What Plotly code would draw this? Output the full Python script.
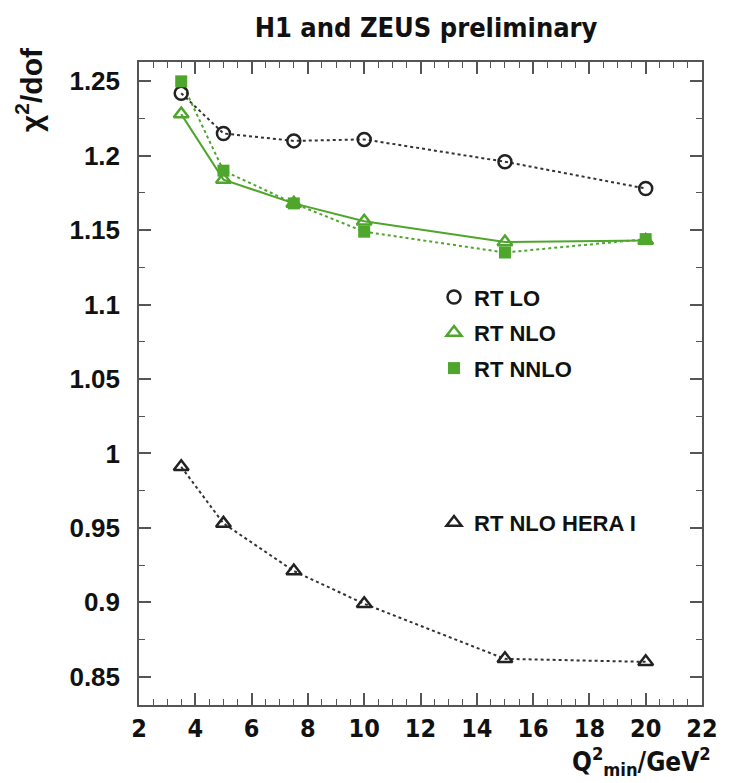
import plotly.graph_objects as go

q2min = [3.5, 5, 7.5, 10, 15, 20]
rt_lo = [1.242, 1.215, 1.210, 1.211, 1.196, 1.178]
rt_nlo = [1.228, 1.184, 1.168, 1.156, 1.142, 1.143]
rt_nnlo = [1.250, 1.190, 1.168, 1.149, 1.135, 1.144]
rt_nlo_hera1 = [0.991, 0.953, 0.921, 0.899, 0.862, 0.860]

x_ticks = list(range(2, 23, 2))
y_ticks = [0.85, 0.9, 0.95, 1.0, 1.05, 1.1, 1.15, 1.2, 1.25]
y_tick_text = ["0.85", "0.9", "0.95", "1", "1.05", "1.1", "1.15", "1.2", "1.25"]

GREEN = "#4ea62c"
DARK = "#333333"
FONT = "Liberation Sans"
COND = "DejaVu Sans Condensed"

fig = go.Figure()

# connecting lines
fig.add_trace(go.Scatter(x=q2min, y=rt_lo, mode="lines", showlegend=False,
                         line=dict(color=DARK, width=2, dash="dot"), hoverinfo="skip"))
fig.add_trace(go.Scatter(x=q2min, y=rt_nlo, mode="lines", showlegend=False,
                         line=dict(color=GREEN, width=2), hoverinfo="skip"))
fig.add_trace(go.Scatter(x=q2min, y=rt_nnlo, mode="lines", showlegend=False,
                         line=dict(color=GREEN, width=2, dash="dot"), hoverinfo="skip"))
fig.add_trace(go.Scatter(x=q2min, y=rt_nlo_hera1, mode="lines", showlegend=False,
                         line=dict(color=DARK, width=2, dash="dot"), hoverinfo="skip"))

# markers (legend entries)
fig.add_trace(go.Scatter(x=q2min, y=rt_lo, mode="markers", name="RT LO", legend="legend",
                         legendgroup="a",
                         marker=dict(symbol="circle-open", size=13, color="#222222",
                                     line=dict(width=2.5, color="#222222"))))
fig.add_trace(go.Scatter(x=q2min, y=rt_nlo, mode="markers", name="RT NLO", legend="legend",
                         legendgroup="b",
                         marker=dict(symbol="triangle-up-open", size=13, color=GREEN,
                                     line=dict(width=2.5, color=GREEN))))
fig.add_trace(go.Scatter(x=q2min, y=rt_nnlo, mode="markers", name="RT NNLO", legend="legend",
                         legendgroup="c",
                         marker=dict(symbol="square", size=12, color=GREEN,
                                     line=dict(width=0))))
fig.add_trace(go.Scatter(x=q2min, y=rt_nlo_hera1, mode="markers", name="RT NLO HERA I",
                         legend="legend2",
                         marker=dict(symbol="triangle-up-open", size=13, color="#222222",
                                     line=dict(width=2.5, color="#222222"))))

axis_common = dict(
    showgrid=False, zeroline=False, showline=True, linecolor="#555555", linewidth=1.5,
    mirror="ticks", ticks="inside", ticklen=12, tickwidth=1.5, tickcolor="#555555",
)

fig.update_xaxes(range=[2, 22], tickvals=x_ticks, ticklabelstandoff=0,
                 tickfont=dict(family=COND, size=25, color="#111111", weight="bold"),
                 minor=dict(dtick=0.5, ticks="inside", ticklen=6, tickwidth=1.2,
                            tickcolor="#555555", showgrid=False),
                 **axis_common)
fig.update_yaxes(range=[0.831, 1.263], tickvals=y_ticks, ticktext=y_tick_text,
                 ticklabelstandoff=12,
                 tickfont=dict(family=FONT, size=26, color="#111111", weight="bold"),
                 minor=dict(tickvals=[0.875, 0.925, 0.975, 1.025, 1.075, 1.125, 1.175, 1.225],
                            ticks="inside", ticklen=6, tickwidth=1.2,
                            tickcolor="#555555", showgrid=False),
                 **axis_common)

legend_font = dict(family=FONT, size=22, color="#111111", weight="bold")
fig.update_layout(
    width=722, height=775,
    margin=dict(l=131, r=17, t=54, b=78),
    paper_bgcolor="white", plot_bgcolor="white",
    title=dict(text="H1 and ZEUS preliminary", x=0.579, xanchor="center", y=0.975,
               yanchor="middle",
               font=dict(family=COND, size=27, color="#111111", weight="bold")),
    legend=dict(x=0.524, y=0.667, xanchor="left", yanchor="top", bgcolor="rgba(0,0,0,0)",
                font=legend_font, tracegroupgap=4, itemwidth=30),
    legend2=dict(x=0.524, y=0.316, xanchor="left", yanchor="top", bgcolor="rgba(0,0,0,0)",
                 font=legend_font, itemwidth=30),
    annotations=[
        dict(text="χ<sup>2</sup>/dof", xref="paper", yref="paper", x=-0.195, y=1.026,
             xanchor="center", yanchor="top", textangle=-90, showarrow=False,
             font=dict(family=FONT, size=30, color="#111111", weight="bold")),
        dict(text="Q<sup>2</sup><sub>min</sub>/GeV<sup>2</sup>", xref="paper", yref="paper",
             x=1.02, y=-0.12, xanchor="right", yanchor="bottom", showarrow=False,
             font=dict(family=COND, size=26, color="#111111", weight="bold")),
    ],
)

fig.write_html("out.html")
